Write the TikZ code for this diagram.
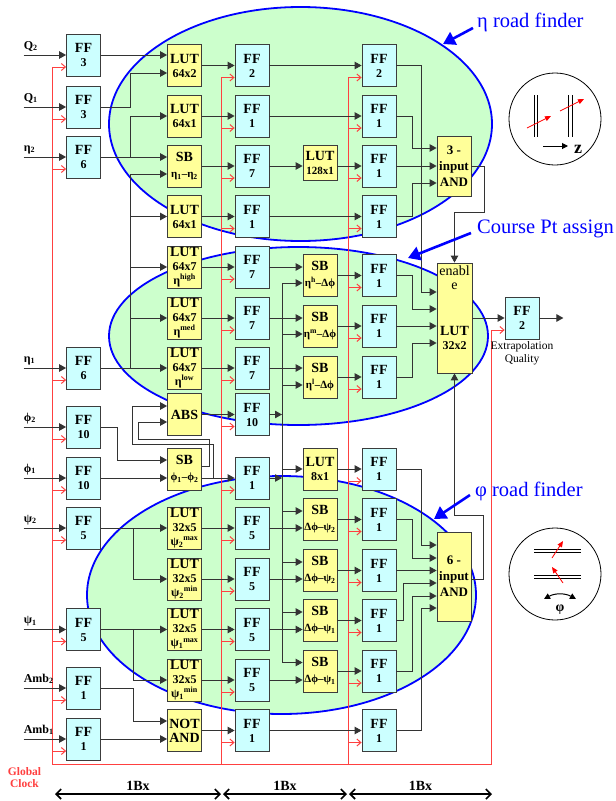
\documentclass[tikz,border=0pt]{standalone}
\usepackage{fontspec}
\setmainfont{Liberation Serif}
\usetikzlibrary{arrows.meta,positioning}

\definecolor{ffcyan}{RGB}{204,255,255}
\definecolor{lutyel}{RGB}{255,255,153}
\definecolor{ellgreen}{RGB}{204,255,204}
\definecolor{boxline}{RGB}{60,60,60}
\definecolor{clkred}{RGB}{255,64,64}
\definecolor{roadblue}{RGB}{0,0,255}

\newcommand{\fs}[1]{\fontsize{#1}{14}\selectfont}
\newcommand{\dnx}[1]{\textsubscript{#1}}
\newcommand{\upx}[1]{\textsuperscript{#1}}
\newcommand{\two}[2]{#1\\{\fs{12}#2}}
\newcommand{\sbtxt}[1]{SB\\[2pt]{\fs{11}#1}}
\newcommand{\lutthree}[2]{LUT\\{\fs{12}#1}\\{\fs{12}#2}}

\tikzset{
  blk/.style={draw=boxline,line width=0.8pt,minimum width=34pt,minimum height=42pt,
    inner sep=0pt,align=center,font=\bfseries\fs{14}},
  ff/.style={blk,fill=ffcyan},
  lut/.style={blk,fill=lutyel},
  wire/.style={draw=black!80,line width=0.9pt},
  dat/.style={wire,-{Triangle[length=7pt,width=7.5pt]}},
  clk/.style={draw=clkred,line width=1pt},
  clkin/.style={clk,{Straight Barb[length=4pt,width=7pt]}-},
  inlab/.style={anchor=base west,inner sep=0pt,font=\bfseries\fs{12}},
  roadtag/.style={anchor=west,inner sep=0pt,text=roadblue,font=\fs{20.5}},
  roadptr/.style={draw=roadblue,line width=2.6pt,-{Triangle[length=12pt,width=14pt]}},
  roadell/.style={fill=ellgreen,draw=roadblue,line width=1.8pt},
  bxarr/.style={line width=1.6pt,{Straight Barb[length=5pt,width=10pt]}-{Straight Barb[length=5pt,width=10pt]}},
}

\begin{document}
\begin{tikzpicture}[x=1pt,y=-1pt]
\useasboundingbox (0,0) rectangle (616,801);

% road finder regions
\draw[roadell] (300.5,124) ellipse [x radius=191.5pt,y radius=117pt];
\draw[roadell] (298.5,336) ellipse [x radius=189.5pt,y radius=89pt];
\draw[roadell] (281.5,595) ellipse [x radius=194.5pt,y radius=119pt];

% global clock
\coordinate (tA) at (52.5,67);
\coordinate (tC) at (221,77.5);
\coordinate (tE) at (348,77.5);
\coordinate (tQ) at (491,330);
\coordinate (tbot) at (0,764);
\draw[clk] (tA) -- (tA |- tbot) -| (tQ);
\draw[clk] (tC) -- (tC |- tbot);
\draw[clk] (tE) -- (tE |- tbot);
\node[inner sep=0pt,align=center,text=clkred,font=\bfseries\fontsize{11.5}{12}\selectfont] (gclk) at (24.5,778) {Global\\Clock};

% input registers
\foreach \n/\y/\k in {aq2/55/3,aq1/107/3,aeta2/157/6,aeta1/368/6,aphi2/427/10,aphi1/478/10,
    apsi2/528/5,apsi1/629.5/5,aamb2/688/1,aamb1/739/1}
  \node[ff] (\n) at (83.5,\y) {\two{FF}{\k}};
\foreach \n/\t in {aq2/{Q\dnx{2}},aq1/{Q\dnx{1}},aeta2/{η\dnx{2}},aeta1/{η\dnx{1}},aphi2/{ϕ\dnx{2}},
    aphi1/{ϕ\dnx{1}},apsi2/{ψ\dnx{2}},apsi1/{ψ\dnx{1}},aamb2/{Amb\dnx{2}},aamb1/{Amb\dnx{1}}}{
  \node[inlab] (l\n) at ([xshift=-42.5pt,yshift=6pt]\n.west) {\t};
  \draw[dat] (l\n.base west |- \n.west) -- (\n.west);
}

% first stage
\node[lut] (b1) at (184.5,65.5) {\two{LUT}{64x2}};
\node[lut] (b2) at (184.5,116) {\two{LUT}{64x1}};
\node[lut] (b3) at (184.5,166) {\sbtxt{η\dnx{1}–η\dnx{2}}};
\node[lut] (b4) at (184.5,216.5) {\two{LUT}{64x1}};
\node[lut] (b5) at (184.5,267) {\lutthree{64x7}{η\upx{high}}};
\node[lut] (b6) at (184.5,318) {\lutthree{64x7}{η\upx{med}}};
\node[lut] (b7) at (184.5,368) {\lutthree{64x7}{η\upx{low}}};
\node[lut] (b8) at (184.5,414.5) {ABS};
\node[lut] (b9) at (184.5,469) {\sbtxt{ϕ\dnx{1}–ϕ\dnx{2}}};
\node[lut] (b10) at (184.5,528) {\lutthree{32x5}{ψ\dnx{2}\upx{max}}};
\node[lut] (b11) at (184.5,579) {\lutthree{32x5}{ψ\dnx{2}\upx{min}}};
\node[lut] (b12) at (184.5,629.5) {\lutthree{32x5}{ψ\dnx{1}\upx{max}}};
\node[lut] (b13) at (184.5,680) {\lutthree{32x5}{ψ\dnx{1}\upx{min}}};
\node[lut] (b14) at (184.5,730.5) {NOT\\AND};

% second and fourth register columns
\foreach \n/\y/\k in {c1/65.5/2,c2/116/1,c3/166/7,c4/216.5/1,c5/267/7,c6/318/7,c7/368/7,
    c8/414.5/10,c9/478/1,c10/528/5,c11/579/5,c12/629.5/5,c13/680/5,c14/730.5/1}
  \node[ff] (\n) at (252,\y) {\two{FF}{\k}};
\foreach \n/\y/\k in {e1/65.5/2,e2/116/1,e3/166/1,e4/216.5/1,e5/275.5/1,e6/326/1,e7/377/1,
    e9/469/1,e10/519.5/1,e11/570.5/1,e12/620.5/1,e13/671/1,e14/730.5/1}
  \node[ff] (\n) at (379,\y) {\two{FF}{\k}};

% third stage
\node[lut,minimum height=35pt] (d3) at (320,162.5) {LUT\\{\fs{11}128x1}};
\node[lut] (d5) at (320,275.5) {\sbtxt{η\upx{h}–Δϕ}};
\node[lut] (d6) at (320,326) {\sbtxt{η\upx{m}–Δϕ}};
\node[lut] (d7) at (320,377) {\sbtxt{η\upx{l}–Δϕ}};
\node[lut] (d9) at (320,469) {\two{LUT}{8x1}};
\node[lut] (d10) at (320,519.5) {\sbtxt{Δϕ–ψ\dnx{2}}};
\node[lut] (d11) at (320,570.5) {\sbtxt{Δϕ–ψ\dnx{2}}};
\node[lut] (d12) at (320,620.5) {\sbtxt{Δϕ–ψ\dnx{1}}};
\node[lut] (d13) at (320,671) {\sbtxt{Δϕ–ψ\dnx{1}}};

% output logic
\node[lut,minimum height=60pt,font=\bfseries\fontsize{13}{16}\selectfont] (and3) at (454,166) {3 -\\input\\AND};
\node[lut,minimum height=110pt,minimum width=35pt] (lutpt) at (454.5,318) {};
\node[inner sep=0pt,anchor=north,align=center,font=\fs{14}] (lutpten) at ([yshift=-3pt]lutpt.north) {enabl\\e};
\node[inner sep=0pt,align=center,font=\bfseries\fs{14}] (lutptlut) at ([yshift=-20pt]lutpt.center) {LUT\\{\fs{12}32x2}};
\node[lut,minimum height=89pt,font=\bfseries\fontsize{13}{16}\selectfont] (and6) at (454,576.5) {6 -\\input\\AND};
\node[ff] (ffq) at (522,318) {\two{FF}{2}};
\node[below=2pt of ffq,inner sep=0pt,align=center,font=\fontsize{11.5}{13}\selectfont] (qlab) {Extrapolation\\Quality};

% eta inputs
\coordinate (b1i2) at ([yshift=-7.5pt]b1.west);
\coordinate (b3i2) at ([yshift=-8pt]b3.west);
\coordinate (etaJ) at ([xshift=29.5pt]aeta2.east);
\coordinate (etaB) at ([xshift=29.5pt]aeta1.east);
\draw[dat] (aq2.east) -- (aq2.east -| b1.west);
\draw[dat] (aq1.east) -- ++(29.5,0) |- (b1i2);
\draw[dat] (aeta2.east) -- (aeta2.east -| b3.west);
\draw[dat] (etaJ) |- (b2.west);
\draw[dat] (aeta1.east) -- (b7.west);
\draw[dat] (etaB) |- (b3i2);
\foreach \n in {b4,b5,b6}
  \draw[dat] (etaB |- \n.west) -- (\n.west);

% phi inputs and ABS loop
\coordinate (b9o1) at ([yshift=3pt]b9.east);
\coordinate (b9o2) at ([yshift=-9pt]b9.east);
\draw[dat] (aphi2.east) -- ++(16.5,0) |- ([yshift=9pt]b9.west);
\draw[dat] (aphi1.east) -- (aphi1.east -| b9.west);
\draw[dat] (b9o2) -- (b9o2 -| c9.west);
\draw[dat] ([xshift=12pt]b9o2) -- ++(0,-34) -- ++(-81,0) |- ([yshift=8.5pt]b8.west);
\draw[dat] (b9o1) -- ++(8,0) -- ++(0,-27) -- ++(-71,0) |- ([yshift=-7.5pt]b8.west);

% psi and ambiguity inputs
\coordinate (psi2J) at ([xshift=32.5pt]apsi2.east);
\coordinate (psi1J) at ([xshift=32.5pt]apsi1.east);
\draw[dat] (apsi2.east) -- (apsi2.east -| b10.west);
\draw[dat] (psi2J) |- (b11.west);
\draw[dat] (apsi1.east) -- (apsi1.east -| b12.west);
\draw[dat] (psi1J) |- (b13.west);
\draw[dat] (aamb2.east) -- ++(32.5,0) |- ([yshift=9.5pt]b14.west);
\draw[dat] (aamb1.east) -- (aamb1.east -| b14.west);

% first stage to registers
\foreach \i in {1,2,3,4,5,6,7,8,10,11,12,13,14}
  \draw[dat] (b\i.east) -- (b\i.east -| c\i.west);

% eta road
\foreach \i in {1,2,4}
  \draw[dat] (c\i.east) -- (c\i.east -| e\i.west);
\draw[dat] (c3.east) -- (c3.east -| d3.west);
\draw[dat] (d3.east |- c3.east) -- (e3.west);
\draw[dat] (e2.east) -- ++(16,0) |- ([yshift=18pt]and3.west);
\draw[dat] (e3.east) -- (and3.west);
\draw[dat] (e4.east) -- ++(16,0) |- ([yshift=-17pt]and3.west);
\draw[dat] (e1.east) -- ++(25,0) |- ([yshift=26pt]lutpt.west);
\draw[dat] (and3.east) -- ++(13,0) -- ++(0,46) -| (lutpt.north);

% delta phi bus
\coordinate (bus) at (282,0);
\coordinate (d5i2) at ([yshift=-7.5pt]d5.west);
\coordinate (d6i2) at ([yshift=-8pt]d6.west);
\coordinate (d7i2) at ([yshift=-8pt]d7.west);
\coordinate (d10i1) at ([yshift=8.5pt]d10.west);
\coordinate (d11i1) at ([yshift=8.5pt]d11.west);
\coordinate (d12i1) at ([yshift=8.5pt]d12.west);
\coordinate (d13i1) at ([yshift=8.5pt]d13.west);
\draw[wire] (bus |- d5i2) -- (bus |- d13i1);
\foreach \p in {d5i2,d6i2,d7i2,d9.west,d10i1,d11i1,d12i1,d13i1}
  \draw[dat] (bus |- \p) -- (\p);
\draw[dat] (c8.east) -- (c8.east -| bus);
\draw[dat] (c9.east) -- (c9.east -| bus);

% course pt assign
\foreach \i in {5,6,7}
  \draw[dat] (c\i.east) -- (c\i.east -| d\i.west);
\foreach \i in {5,6,7,9,10,11,12,13}
  \draw[dat] (d\i.east) -- (e\i.west);
\draw[dat] (e5.east) -- ++(16,0) |- ([yshift=9pt]lutpt.west);
\draw[dat] (e6.east) -- (e6.east -| lutpt.west);
\draw[dat] (e7.east) -- ++(16,0) |- ([yshift=-25pt]lutpt.west);
\draw[dat] (lutpt.east |- ffq.west) -- (ffq.west);
\coordinate (qout) at ([xshift=24pt]ffq.east);
\draw[dat] (ffq.east) -- (qout);

% phi road
\foreach \i in {10,11,12,13}
  \draw[dat] (c\i.east) -- (c\i.east -| d\i.west);
\draw[dat] (c14.east) -- (e14.west);
\draw[dat] (e9.east) -- ++(25,0) |- ([yshift=31.5pt]and6.west);
\draw[dat] (e10.east) -- ++(16,0) |- ([yshift=18.5pt]and6.west);
\draw[dat] (e11.east) -- (e11.east -| and6.west);
\draw[dat] (e12.east) -- ++(7,0) |- ([yshift=-6.5pt]and6.west);
\draw[dat] (e13.east) -- ++(16,0) |- ([yshift=-19.5pt]and6.west);
\draw[dat] (e14.east) -- ++(25,0) |- ([yshift=-31.5pt]and6.west);
\draw[dat] ([yshift=-2.5pt]and6.east) -- ++(12,0) -- ++(0,-64) -| (lutpt.south);

% clock taps
\foreach \n in {aq2,aq1,aeta2,aeta1,aphi2,aphi1,apsi2,apsi1,aamb2,aamb1,
    c1,c2,c3,c4,c5,c6,c7,c8,c9,c10,c11,c12,c13,c14,
    e1,e2,e3,e4,e5,e6,e7,e9,e10,e11,e12,e13,e14,ffq}
  \draw[clkin] ([yshift=-12pt]\n.west) -- ++(-14,0);

% bunch crossings
\coordinate (bx0) at (55,794);
\coordinate (bx1) at (222,794);
\coordinate (bx2) at (348,794);
\coordinate (bx3) at (492,794);
\draw[bxarr] (bx0) -- ([xshift=-1pt]bx1) node[midway,above=3pt,inner sep=0pt,font=\bfseries\fs{14}] (bxl1) {1Bx};
\draw[bxarr] ([xshift=1pt]bx1) -- ([xshift=-1pt]bx2) node[midway,above=3pt,inner sep=0pt,font=\bfseries\fs{14}] (bxl2) {1Bx};
\draw[bxarr] ([xshift=1pt]bx2) -- (bx3) node[midway,above=3pt,inner sep=0pt,font=\bfseries\fs{14}] (bxl3) {1Bx};

% callouts
\node[roadtag] (etatag) at (477,22) {η road finder};
\node[roadtag] (pttag) at (477,229) {Course Pt assign};
\node[roadtag] (phitag) at (475,491) {φ road finder};
\coordinate (etatip) at (443,44);
\coordinate (pttip) at (408,258);
\coordinate (phitip) at (434,519);
\draw[roadptr] ([xshift=-4pt,yshift=-6pt]etatag.west) -- (etatip);
\draw[roadptr] ([xshift=-6pt,yshift=-4pt]pttag.west) -- (pttip);
\draw[roadptr] ([xshift=-5pt,yshift=-4pt]phitag.west) -- (phitip);

% sketch: z view
\node[draw,circle,line width=0.8pt,minimum size=92pt,inner sep=0pt] (zicon) at (555,119) {};
\begin{scope}[shift={(zicon.center)}]
  \draw[line width=0.7pt] (-21,-24) -- (-21,18) (-18,-24) -- (-18,18) (13,-24) -- (13,18) (17,-24) -- (17,18);
  \draw[red,line width=0.8pt,-{Triangle[length=6pt,width=5pt]}] (-28,9) -- (-4,-3);
  \draw[red,line width=0.8pt,-{Triangle[length=6pt,width=5pt]}] (5,-8) -- (29,-20);
  \draw[line width=1pt,-{Triangle[length=6pt,width=6pt]}] (-12,27) -- (13,27);
  \node[font=\bfseries\fs{18},inner sep=0pt] (zlab) at (23,30) {z};
\end{scope}

% sketch: phi view
\node[draw,circle,line width=0.8pt,minimum size=92pt,inner sep=0pt] (phiicon) at (555,574) {};
\begin{scope}[shift={(phiicon.center)}]
  \draw[line width=0.7pt] (-21,-25) -- (26,-25) (-21,-22) -- (26,-22) (-21,1) -- (26,1) (-21,4) -- (26,4);
  \draw[red,line width=0.8pt,-{Triangle[length=6pt,width=5pt]}] (-3,-16) -- (8,-33);
  \draw[red,line width=0.8pt,-{Triangle[length=6pt,width=5pt]}] (8,9) -- (-3,-7);
  \draw[line width=1pt,{Triangle[length=6pt,width=6pt]}-{Triangle[length=6pt,width=6pt]}] (-11,25) .. controls (0,19) and (10,19) .. (21,25);
  \node[font=\bfseries\fs{14},inner sep=0pt] (philab) at (5,36) {φ};
\end{scope}
\end{tikzpicture}
\end{document}
